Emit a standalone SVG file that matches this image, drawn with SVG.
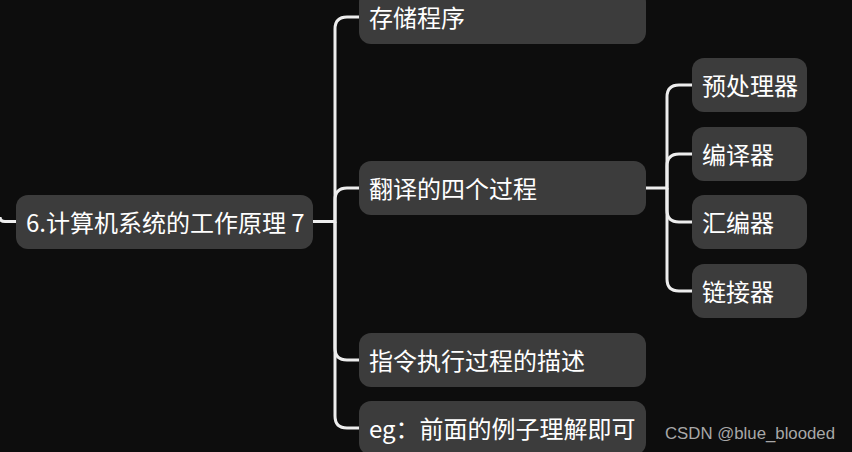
<svg xmlns="http://www.w3.org/2000/svg" width="852" height="452" viewBox="0 0 852 452">
<style>
.bg{fill:#0d0d0d}
.node rect{fill:#3c3c3c}
.node text{fill:#ffffff;font-family:"Noto Sans CJK SC","Noto Sans",sans-serif;font-size:24px}
.conn path{fill:none;stroke:#ededed;stroke-width:3;stroke-linecap:butt}
.wm{fill:#a8a8a8;font-family:"Liberation Sans",Arial,sans-serif;font-size:16.8px}
</style>
<rect class="bg" x="0" y="0" width="852" height="452"/>
<g id="connectors" class="conn">
<path d="M0,217 Q0,221.5 5,221.5 H16"/>
<path d="M313,221.5 H335 V29 Q335,17 347,17 H359"/>
<path d="M335,221.5 V200 Q335,188 347,188 H359"/>
<path d="M335,221.5 V348 Q335,360 347,360 H359"/>
<path d="M335,221.5 V416 Q335,428 347,428 H359"/>
<path d="M646,188 H667 V97 Q667,85 679,85 H692"/>
<path d="M667,188 V166 Q667,154 679,154 H692"/>
<path d="M667,188 V210 Q667,222 679,222 H692"/>
<path d="M667,188 V279 Q667,291 679,291 H692"/>
</g>
<g id="root" class="node">
<rect x="16" y="195" width="297" height="54" rx="12"/>
<text x="26" y="231.5">6.计算机系统的工作原理 7</text>
</g>
<g id="n-store" class="node">
<rect x="359" y="-10" width="287" height="54" rx="12"/>
<text x="369" y="26.5">存储程序</text>
</g>
<g id="n-translate" class="node">
<rect x="359" y="161" width="287" height="54" rx="12"/>
<text x="369" y="197.5">翻译的四个过程</text>
</g>
<g id="n-instr" class="node">
<rect x="359" y="333" width="287" height="54" rx="12"/>
<text x="369" y="369.5">指令执行过程的描述</text>
</g>
<g id="n-eg" class="node">
<rect x="359" y="401" width="287" height="54" rx="12"/>
<text x="369" y="437.5">eg：前面的例子理解即可</text>
</g>
<g id="s-pre" class="node">
<rect x="692" y="58" width="115" height="54" rx="12"/>
<text x="702" y="94.5">预处理器</text>
</g>
<g id="s-comp" class="node">
<rect x="692" y="127" width="115" height="54" rx="12"/>
<text x="702" y="163.5">编译器</text>
</g>
<g id="s-asm" class="node">
<rect x="692" y="195" width="115" height="54" rx="12"/>
<text x="702" y="231.5">汇编器</text>
</g>
<g id="s-link" class="node">
<rect x="692" y="264" width="115" height="54" rx="12"/>
<text x="702" y="300.5">链接器</text>
</g>
<text class="wm" x="665" y="438.5">CSDN @blue_blooded</text>
</svg>
